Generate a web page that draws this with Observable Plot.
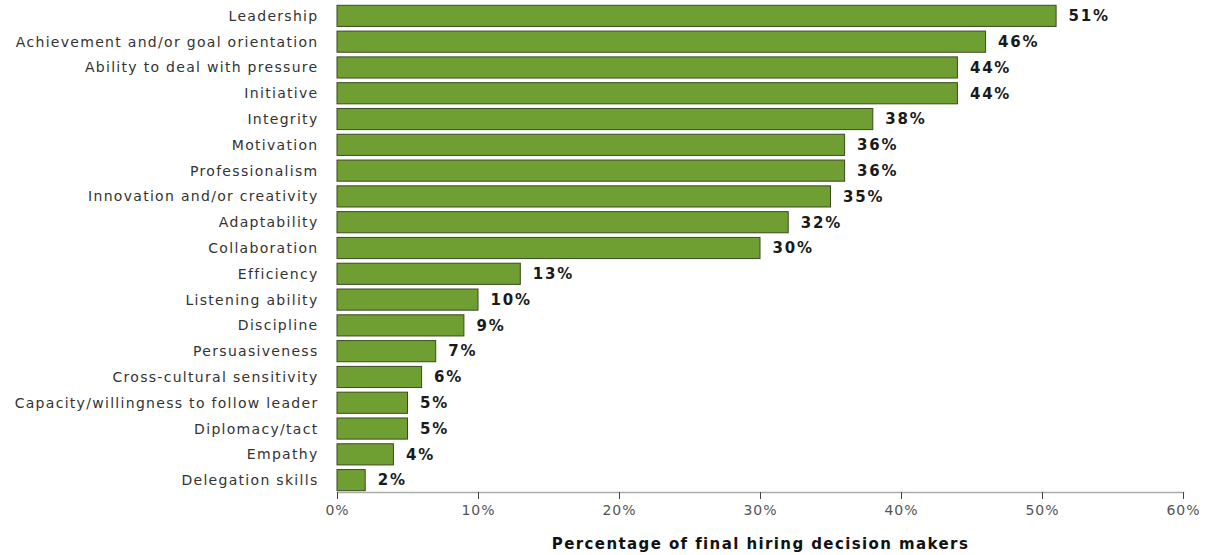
<!DOCTYPE html>
<html>
<head>
<meta charset="utf-8">
<script src="https://cdn.jsdelivr.net/npm/d3@7"></script>
<script src="https://cdn.jsdelivr.net/npm/@observablehq/plot@0.6"></script>
<style>
  html, body { margin: 0; padding: 0; background: #fff; }
  #chart svg { font-family: "DejaVu Sans", sans-serif; }
  g[aria-label="y-axis tick label"] text { letter-spacing: 1.3px; }
  g[aria-label="x-axis tick label"] text { letter-spacing: 1px; }
  g[aria-label="text"] text { letter-spacing: 1.8px; }
  g[aria-label="x-axis label"] text { font-weight: bold; fill: #111; font-size: 15px; letter-spacing: 1.4px; }
</style>
</head>
<body>
<div id="chart"></div>
<script>
const skills = [
  "Leadership",
  "Achievement and/or goal orientation",
  "Ability to deal with pressure",
  "Initiative",
  "Integrity",
  "Motivation",
  "Professionalism",
  "Innovation and/or creativity",
  "Adaptability",
  "Collaboration",
  "Efficiency",
  "Listening ability",
  "Discipline",
  "Persuasiveness",
  "Cross-cultural sensitivity",
  "Capacity/willingness to follow leader",
  "Diplomacy/tact",
  "Empathy",
  "Delegation skills"
];
const percents = [51, 46, 44, 44, 38, 36, 36, 35, 32, 30, 13, 10, 9, 7, 6, 5, 5, 4, 2];
const xTicks = [0, 10, 20, 30, 40, 50, 60];
const xTitle = "Percentage of final hiring decision makers";

const data = skills.map((s, i) => ({skill: s, value: percents[i]}));

const chart = Plot.plot({
  width: 1211,
  height: 555,
  marginLeft: 337,
  marginRight: 28,
  marginTop: 4,
  marginBottom: 63,
  style: {fontFamily: "DejaVu Sans, sans-serif", background: "#fff"},
  x: {domain: [0, 60], ticks: xTicks, tickFormat: d => d + "%", label: null},
  y: {domain: skills, paddingInner: 0.18, paddingOuter: 0.05, round: false, label: null},
  marks: [
    Plot.barX(data, {x: "value", y: "skill", fill: "#6f9f33", stroke: "#3b4a22", strokeWidth: 1}),
    Plot.text(data, {x: "value", y: "skill", text: d => d.value + "%", textAnchor: "start", dx: 12,
      fontWeight: "bold", fontSize: 15, fill: "#1a1a1a"}),
    Plot.axisY({tickSize: 0, tickPadding: 19, fontSize: 14, color: "#333", label: null}),
    Plot.frame({anchor: "bottom", stroke: "#aaa", strokeWidth: 1.5}),
    Plot.axisX({ticks: xTicks, tickFormat: d => d + "%", tickSize: 7, tickPadding: 6, fontSize: 14,
      color: "#555", stroke: "#444", label: xTitle, labelAnchor: "center", labelOffset: 56, labelArrow: "none"})
  ]
});
document.getElementById("chart").appendChild(chart);
</script>
</body>
</html>
